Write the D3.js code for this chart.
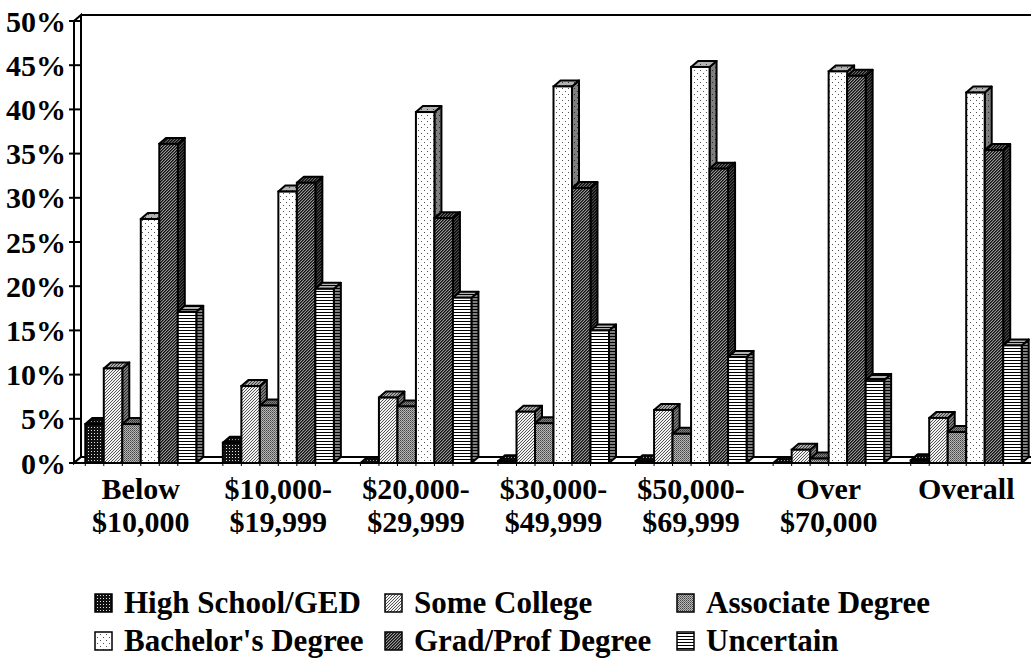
<!DOCTYPE html>
<html>
<head>
<meta charset="utf-8">
<script src="https://cdn.jsdelivr.net/npm/d3@7"></script>
<style>
  body { margin: 0; background: #fff; }
  svg { display: block; }
  text { font-family: "Liberation Serif", "Times New Roman", serif; font-weight: bold; fill: #000; }
</style>
</head>
<body>
<svg id="chart" width="1031" height="665"></svg>
<script>
// Income brackets (line breaks split the axis label onto two lines)
const categories = ["Below\n$10,000", "$10,000-\n$19,999", "$20,000-\n$29,999", "$30,000-\n$49,999",
                    "$50,000-\n$69,999", "Over\n$70,000", "Overall"];

const seriesNames = ["High School/GED", "Some College", "Associate Degree",
                     "Bachelor's Degree", "Grad/Prof Degree", "Uncertain"];

// Percent of respondents in each bracket
const highSchool = [4.4, 2.3, 0.0, 0.2, 0.2, 0.0, 0.3];
const someCollege = [10.7, 8.7, 7.4, 5.8, 6.0, 1.5, 5.1];
const associate  = [4.4, 6.5, 6.4, 4.5, 3.3, 0.5, 3.5];
const bachelor   = [27.6, 30.7, 39.7, 42.6, 44.8, 44.3, 41.9];
const gradProf   = [36.1, 31.7, 27.7, 31.1, 33.3, 43.8, 35.4];
const uncertain  = [17.1, 19.7, 18.7, 15.0, 12.0, 9.4, 13.3];

const yTicks = [0, 5, 10, 15, 20, 25, 30, 35, 40, 45, 50];

const seriesValues = [highSchool, someCollege, associate, bachelor, gradProf, uncertain];
const patternIds = ["pHS", "pSC", "pAD", "pBD", "pGD", "pUN"];

const svg = d3.select("#chart");
const defs = svg.append("defs");

// ---- fill patterns ----
function pattern(id, size, build) {
  const p = defs.append("pattern").attr("id", id)
    .attr("patternUnits", "userSpaceOnUse").attr("width", size).attr("height", size);
  build(p);
}
function px(p, x, y, c) {
  p.append("rect").attr("x", x).attr("y", y).attr("width", 1).attr("height", 1).attr("fill", c);
}
pattern("pHS", 3, p => {
  p.append("rect").attr("width", 3).attr("height", 3).attr("fill", "#111");
  px(p, 1, 1, "#e0e0e0");
});
pattern("pSC", 3, p => {
  p.append("rect").attr("width", 3).attr("height", 3).attr("fill", "#f2f2f2");
  px(p, 2, 0, "#555"); px(p, 1, 1, "#555"); px(p, 0, 2, "#555");
});
pattern("pAD", 2, p => {
  p.append("rect").attr("width", 2).attr("height", 2).attr("fill", "#b8b8b8");
  px(p, 0, 0, "#444");
  px(p, 1, 1, "#6a6a6a");
});
pattern("pBD", 6, p => {
  p.append("rect").attr("width", 6).attr("height", 6).attr("fill", "#fff");
  px(p, 1, 1, "#555");
  px(p, 4, 4, "#555");
});
pattern("pGD", 3, p => {
  p.append("rect").attr("width", 3).attr("height", 3).attr("fill", "#999");
  px(p, 2, 0, "#111"); px(p, 1, 1, "#111"); px(p, 0, 2, "#111");
  px(p, 0, 0, "#444"); px(p, 1, 2, "#444"); px(p, 2, 1, "#444");
});
pattern("pUN", 3, p => {
  p.append("rect").attr("width", 3).attr("height", 3).attr("fill", "#fff");
  p.append("rect").attr("y", 0).attr("width", 3).attr("height", 1).attr("fill", "#000");
});

// ---- geometry ----
const depthX = 7, depthY = 6;
const x = d3.scaleBand().domain(categories).range([72, 1035]).paddingInner(0).paddingOuter(0);
const y = d3.scaleLinear().domain([0, 50]).range([463, 21]);
const barW = 18.5;
const groupW = barW * seriesNames.length;
const y0 = y(0);
const wallX = 74;

const g = svg.append("g");

// back wall top edge
g.append("line")
  .attr("x1", wallX + depthX).attr("y1", y(50) - depthY)
  .attr("x2", 1040).attr("y2", y(50) - depthY)
  .attr("stroke", "#000").attr("stroke-width", 2);

// left wall
g.append("path")
  .attr("d", `M${wallX},${y0} L${wallX},${y(50)} L${wallX + depthX},${y(50) - depthY} L${wallX + depthX},${y0 - depthY} Z`)
  .attr("fill", "#fff").attr("stroke", "#000").attr("stroke-width", 2);

// floor
g.append("path")
  .attr("d", `M${wallX},${y0} L1040,${y0} L${1040 + depthX},${y0 - depthY} L${wallX + depthX},${y0 - depthY} Z`)
  .attr("fill", "#fff").attr("stroke", "#000").attr("stroke-width", 2);

// value axis ticks and labels
g.selectAll(".ytick").data(yTicks).join("line")
  .attr("x1", wallX - 5).attr("x2", wallX + depthX)
  .attr("y1", d => y(d)).attr("y2", d => y(d))
  .attr("stroke", "#000").attr("stroke-width", 2);
g.selectAll(".ylab").data(yTicks).join("text")
  .attr("x", 66).attr("y", d => y(d)).attr("dy", "0.35em")
  .attr("text-anchor", "end").attr("font-size", 30)
  .text(d => d + "%");

// ---- bars ----
const bars = [];
categories.forEach((c, ci) => {
  const gx = x(c) + (x.bandwidth() - groupW) / 2;
  seriesValues.forEach((vals, si) => {
    bars.push({ x0: gx + si * barW, v: vals[ci], si });
  });
});

const barG = g.append("g");
bars.forEach(b => {
  const x0 = b.x0, x1 = b.x0 + barW, yt = y(b.v);
  const fill = `url(#${patternIds[b.si]})`;
  const side = `M${x1},${y0} L${x1},${yt} L${x1 + depthX},${yt - depthY} L${x1 + depthX},${y0 - depthY} Z`;
  const top = `M${x0},${yt} L${x1},${yt} L${x1 + depthX},${yt - depthY} L${x0 + depthX},${yt - depthY} Z`;
  const bg = barG.append("g");
  // side face
  bg.append("path").attr("d", side).attr("fill", fill);
  bg.append("path").attr("d", side).attr("fill", "#000").attr("fill-opacity", 0.5)
    .attr("stroke", "#000").attr("stroke-width", 2).attr("stroke-linejoin", "round");
  // top face
  bg.append("path").attr("d", top).attr("fill", fill);
  bg.append("path").attr("d", top).attr("fill", "#000").attr("fill-opacity", 0.3)
    .attr("stroke", "#000").attr("stroke-width", 2).attr("stroke-linejoin", "round");
  // front face
  bg.append("rect").attr("x", x0).attr("y", yt).attr("width", barW).attr("height", y0 - yt)
    .attr("fill", fill).attr("stroke", "#000").attr("stroke-width", 2);
  // small tick below the floor edge
  bg.append("line").attr("x1", x0).attr("x2", x0).attr("y1", y0).attr("y2", y0 + 3)
    .attr("stroke", "#000").attr("stroke-width", 1);
});

// floor front edge redrawn over the bar bases
g.append("line").attr("x1", wallX).attr("x2", 1040).attr("y1", y0).attr("y2", y0)
  .attr("stroke", "#000").attr("stroke-width", 2);

// category labels
categories.forEach(c => {
  const cx = x(c) + x.bandwidth() / 2;
  const t = g.append("text").attr("text-anchor", "middle").attr("font-size", 30)
    .attr("x", cx).attr("y", 499);
  c.split("\n").forEach((line, i) => {
    t.append("tspan").attr("x", cx).attr("dy", i === 0 ? 0 : 33).text(line);
  });
});

// ---- legend: three columns, two rows ----
const legendCols = [95, 385, 677];
const legendRows = [613, 651];
const leg = svg.append("g");
seriesNames.forEach((name, i) => {
  const lx = legendCols[i % 3], ly = legendRows[Math.floor(i / 3)];
  leg.append("rect").attr("x", lx).attr("y", ly - 19).attr("width", 17).attr("height", 18)
    .attr("fill", `url(#${patternIds[i]})`).attr("stroke", "#000").attr("stroke-width", 1.5);
  leg.append("text").attr("x", lx + 29).attr("y", ly).attr("font-size", 31).text(name);
});
</script>
</body>
</html>
